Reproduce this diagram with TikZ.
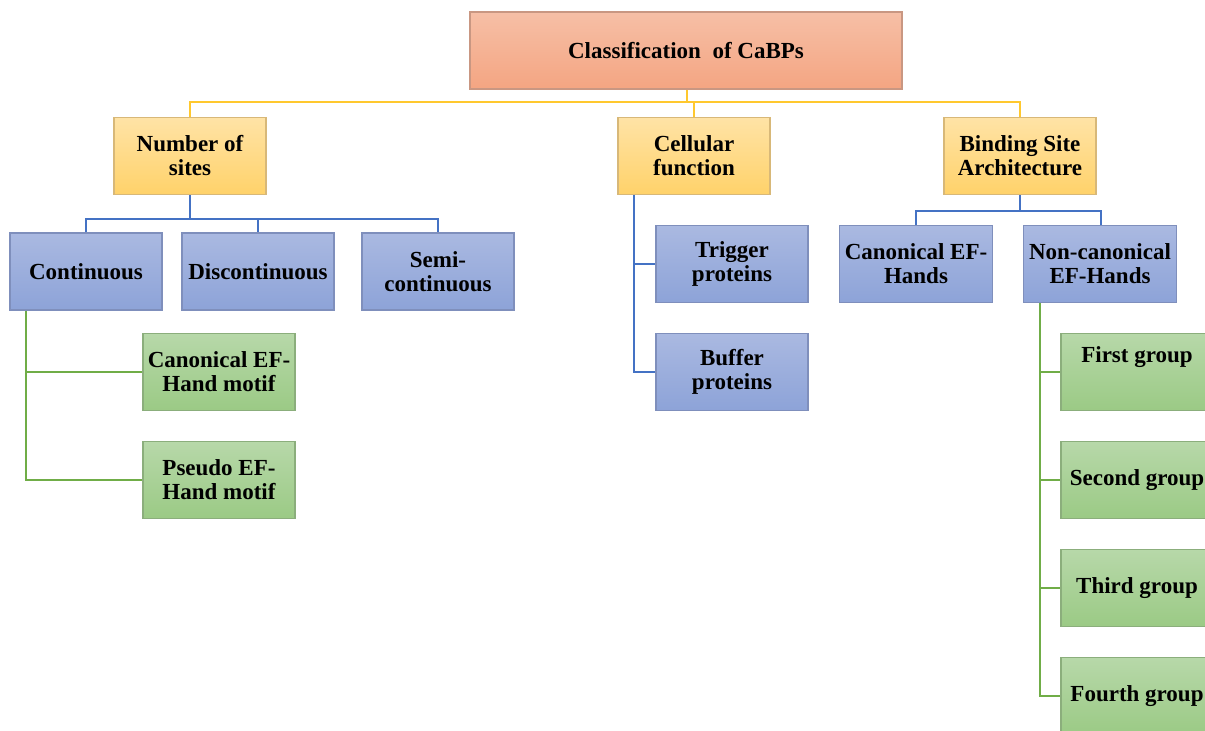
\documentclass[tikz,border=0pt]{standalone}
\usepackage{fontspec}
\setmainfont{Liberation Serif}
\begin{document}
\begin{tikzpicture}[x=1pt,y=-1pt,
  every node/.style={font=\fontsize{23}{24}\selectfont\bfseries, align=center, inner sep=0pt},
  boxbase/.style={draw, line width=1.2pt, minimum width=152pt, minimum height=77pt},
  topbox/.style={boxbase, draw=topborder, top color=toptop, bottom color=topbot, minimum width=432pt},
  ybox/.style={boxbase, draw=yborder, top color=ytop, bottom color=ybot},
  bbox/.style={boxbase, draw=bborder, top color=btop, bottom color=bbot},
  gbox/.style={boxbase, draw=gborder, top color=gtop, bottom color=gbot},
  yline/.style={draw=ylinec, line width=1.6pt},
  bline/.style={draw=blinec, line width=1.6pt},
  gline/.style={draw=glinec, line width=1.4pt}
]
\definecolor{topborder}{HTML}{C99782}
\definecolor{toptop}{HTML}{F6BFA6}
\definecolor{topbot}{HTML}{F4A582}
\definecolor{yborder}{HTML}{D8B878}
\definecolor{ytop}{HTML}{FFE3A6}
\definecolor{ybot}{HTML}{FFD26A}
\definecolor{bborder}{HTML}{7F8FBC}
\definecolor{btop}{HTML}{AAB9E1}
\definecolor{bbot}{HTML}{8DA3D8}
\definecolor{gborder}{HTML}{8BAE7C}
\definecolor{gtop}{HTML}{B7D8A9}
\definecolor{gbot}{HTML}{9BCA85}
\definecolor{ylinec}{HTML}{FFC82E}
\definecolor{blinec}{HTML}{4472C4}
\definecolor{glinec}{HTML}{70AD47}

\useasboundingbox (0,0) rectangle (1205,731);
\fill[white] (0,0) rectangle (1205,731);

% root
\node[topbox] (root) at (686,50.5) {Classification~ of CaBPs};

% level 1
\node[ybox] (nos) at (190,156) {Number of\\sites};
\node[ybox] (cf) at (694,156) {Cellular\\function};
\node[ybox] (bsa) at (1020,156) {Binding Site\\Architecture};

% level 2 under Number of sites
\node[bbox] (cont) at (86,271.5) {Continuous};
\node[bbox] (disc) at (258,271.5) {Discontinuous};
\node[bbox] (semi) at (438,271.5) {Semi-\\continuous};

% green under Continuous
\node[gbox] (cef) at (219,372) {Canonical EF-\\Hand motif};
\node[gbox] (pef) at (219,480) {Pseudo EF-\\Hand motif};

% under Cellular function
\node[bbox] (trig) at (732,264) {Trigger\\proteins};
\node[bbox] (buf) at (732,372) {Buffer\\proteins};

% under Binding Site Architecture
\node[bbox, minimum width=153pt] (cefh) at (916,264) {Canonical EF-\\Hands};
\node[bbox, minimum width=153pt] (ncefh) at (1100,264) {Non-canonical\\EF-Hands};

% groups
\node[gbox] (g1) at (1137,372) {};
\node at ([yshift=15]g1.center) {First group};
\node[gbox] (g2) at (1137,480) {Second group};
\node[gbox] (g3) at (1137,588) {Third group};
\node[gbox] (g4) at (1137,696) {Fourth group};

% connectors: root
\coordinate (ry) at (687,102);
\draw[yline] (root.south -| ry) -- (ry)
  (nos.north) |- (ry) -| (bsa.north)
  (cf.north |- ry) -- (cf.north);

% Number of sites
\coordinate (nb) at (192,219);
\draw[bline] (nos.south) -- (nos.south |- nb)
  (cont.north) |- (nb) -| (semi.north)
  (disc.north |- nb) -- (disc.north);

% Continuous -> green
\coordinate (cg) at (26,0);
\draw[gline] (cont.south -| cg) |- (pef.west)
  (cef.west -| cg) -- (cef.west);

% Cellular function
\coordinate (cb) at (634,0);
\draw[bline] (cf.south -| cb) |- (buf.west)
  (trig.west -| cb) -- (trig.west);

% Binding site
\coordinate (bb) at (1021,211);
\draw[bline] (bsa.south) -- (bsa.south |- bb)
  (cefh.north) |- (bb) -| ([xshift=1]ncefh.north);

% Non-canonical -> groups
\coordinate (ng) at (1040,0);
\draw[gline] (ncefh.south -| ng) |- (g4.west)
  (g1.west -| ng) -- (g1.west)
  (g2.west -| ng) -- (g2.west)
  (g3.west -| ng) -- (g3.west);
\end{tikzpicture}
\end{document}
